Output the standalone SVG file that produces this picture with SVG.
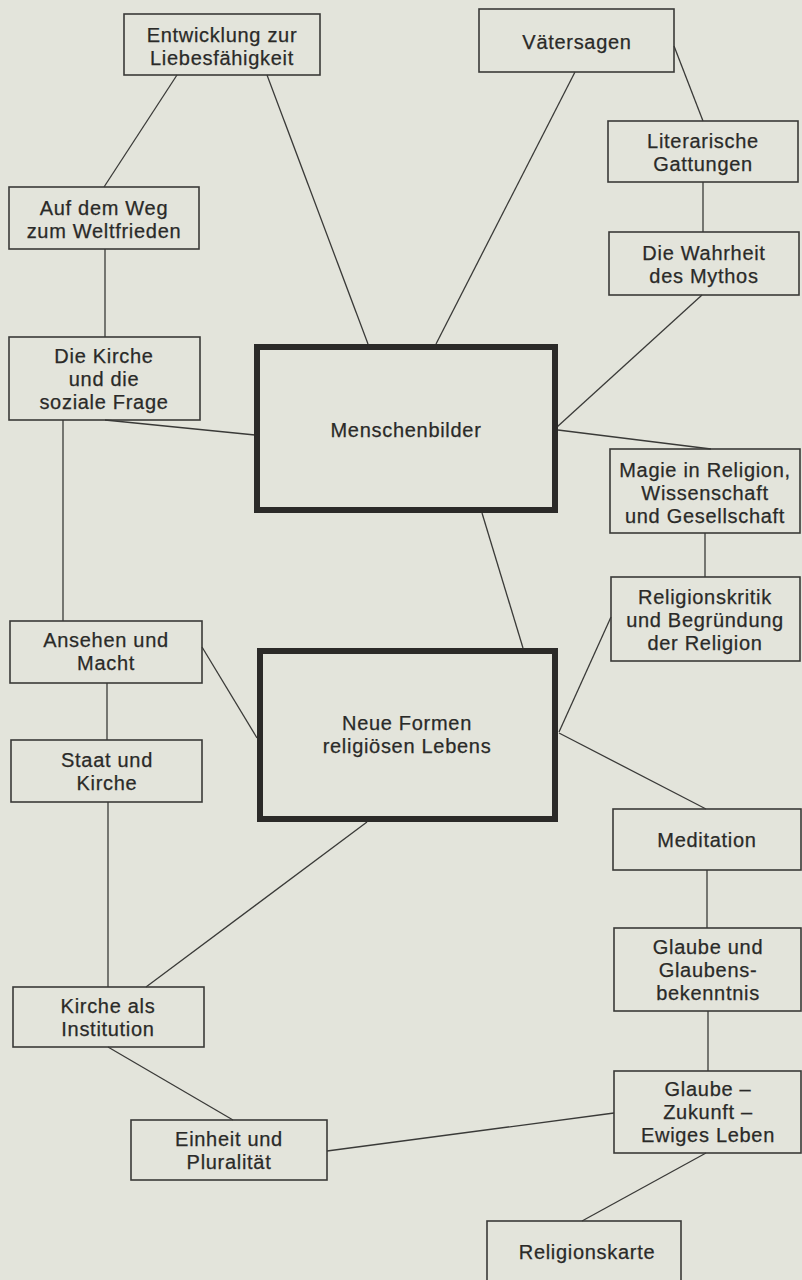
<svg xmlns="http://www.w3.org/2000/svg" width="802" height="1280" viewBox="0 0 802 1280">
<style>
.bg{fill:#e3e4db}
.box{fill:none;stroke:#3a3a38;stroke-width:1.6}
.main{fill:none;stroke:#2b2a28;stroke-width:6}
.edge{stroke:#3a3a38;stroke-width:1.3;fill:none}
text{font-family:"Liberation Sans",Arial,sans-serif;font-size:20px;letter-spacing:0.7px;fill:#2a2a28;stroke:#2a2a28;stroke-width:0.25;text-anchor:middle}
</style>
<rect class="bg" x="0" y="0" width="802" height="1280"/>
<g id="connectors">
<line class="edge" x1="177" y1="75" x2="104" y2="187"/>
<line class="edge" x1="267" y1="75" x2="368" y2="344"/>
<line class="edge" x1="105" y1="249" x2="105" y2="337"/>
<line class="edge" x1="575" y1="72" x2="436" y2="344"/>
<line class="edge" x1="674" y1="46" x2="703" y2="121"/>
<line class="edge" x1="703" y1="182" x2="703" y2="232"/>
<line class="edge" x1="702" y1="295" x2="557" y2="427"/>
<line class="edge" x1="105" y1="420" x2="255" y2="435"/>
<line class="edge" x1="558" y1="430" x2="711" y2="449"/>
<line class="edge" x1="705" y1="533" x2="705" y2="577"/>
<line class="edge" x1="482" y1="513" x2="523" y2="648"/>
<line class="edge" x1="63" y1="420" x2="63" y2="621"/>
<line class="edge" x1="202" y1="647" x2="257" y2="738"/>
<line class="edge" x1="107" y1="683" x2="107" y2="740"/>
<line class="edge" x1="611" y1="617" x2="559" y2="732"/>
<line class="edge" x1="559" y1="733" x2="706" y2="809"/>
<line class="edge" x1="707" y1="870" x2="707" y2="928"/>
<line class="edge" x1="708" y1="1011" x2="708" y2="1071"/>
<line class="edge" x1="706" y1="1153" x2="582" y2="1221"/>
<line class="edge" x1="614" y1="1113" x2="327" y2="1151"/>
<line class="edge" x1="108" y1="802" x2="108" y2="987"/>
<line class="edge" x1="108" y1="1047" x2="233" y2="1120"/>
<line class="edge" x1="367" y1="822" x2="146" y2="987"/>
</g>
<g id="n-entwicklung"><rect class="box" x="124" y="14" width="196" height="61"/><text x="222" y="42">Entwicklung zur</text><text x="222" y="65">Liebesfähigkeit</text></g>
<g id="n-weltfrieden"><rect class="box" x="9" y="187" width="190" height="62"/><text x="104" y="214.5">Auf dem Weg</text><text x="104" y="237.5">zum Weltfrieden</text></g>
<g id="n-kirche-sozial"><rect class="box" x="9" y="337" width="191" height="83"/><text x="104" y="362.5">Die Kirche</text><text x="104" y="385.5">und die</text><text x="104" y="408.5">soziale Frage</text></g>
<g id="n-vaetersagen"><rect class="box" x="479" y="9" width="195" height="63"/><text x="577" y="48.5">Vätersagen</text></g>
<g id="n-gattungen"><rect class="box" x="608" y="121" width="190" height="61"/><text x="703" y="147.5">Literarische</text><text x="703" y="170.5">Gattungen</text></g>
<g id="n-mythos"><rect class="box" x="609" y="232" width="190" height="63"/><text x="704" y="260">Die Wahrheit</text><text x="704" y="283">des Mythos</text></g>
<g id="n-menschenbilder"><rect class="main" x="257" y="347" width="298" height="163"/><text x="406" y="436.5">Menschenbilder</text></g>
<g id="n-magie"><rect class="box" x="610" y="449" width="190" height="84"/><text x="705" y="476.5">Magie in Religion,</text><text x="705" y="499.5">Wissenschaft</text><text x="705" y="522.5">und Gesellschaft</text></g>
<g id="n-religionskritik"><rect class="box" x="611" y="577" width="189" height="84"/><text x="705" y="603.5">Religionskritik</text><text x="705" y="626.5">und Begründung</text><text x="705" y="649.5">der Religion</text></g>
<g id="n-ansehen"><rect class="box" x="10" y="621" width="192" height="62"/><text x="106" y="646.5">Ansehen und</text><text x="106" y="669.5">Macht</text></g>
<g id="n-staat"><rect class="box" x="11" y="740" width="191" height="62"/><text x="107" y="766.5">Staat und</text><text x="107" y="789.5">Kirche</text></g>
<g id="n-neue-formen"><rect class="main" x="260" y="651" width="295" height="168"/><text x="407" y="729.5">Neue Formen</text><text x="407" y="752.5">religiösen Lebens</text></g>
<g id="n-meditation"><rect class="box" x="613" y="809" width="188" height="61"/><text x="707" y="846.5">Meditation</text></g>
<g id="n-glaubensbekenntnis"><rect class="box" x="614" y="928" width="187" height="83"/><text x="708" y="953.5">Glaube und</text><text x="708" y="976.5">Glaubens-</text><text x="708" y="999.5">bekenntnis</text></g>
<g id="n-ewiges-leben"><rect class="box" x="614" y="1071" width="187" height="82"/><text x="708" y="1096">Glaube –</text><text x="708" y="1119">Zukunft –</text><text x="708" y="1142">Ewiges Leben</text></g>
<g id="n-religionskarte"><rect class="box" x="487" y="1221" width="194" height="70"/><text x="587" y="1258.5">Religionskarte</text></g>
<g id="n-institution"><rect class="box" x="13" y="987" width="191" height="60"/><text x="108" y="1012.5">Kirche als</text><text x="108" y="1035.5">Institution</text></g>
<g id="n-einheit"><rect class="box" x="131" y="1120" width="196" height="60"/><text x="229" y="1146">Einheit und</text><text x="229" y="1169">Pluralität</text></g>
</svg>
